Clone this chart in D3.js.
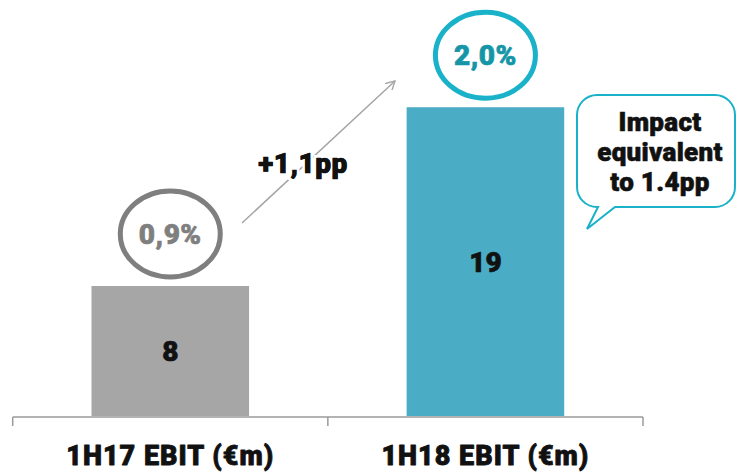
<!DOCTYPE html>
<html>
<head>
<meta charset="utf-8">
<script src="https://cdn.jsdelivr.net/npm/d3@7/dist/d3.min.js"></script>
<style>
  html, body { margin: 0; padding: 0; background: #fff; }
  svg { display: block; }
  text { font-family: Roboto, "Open Sans", sans-serif; font-weight: 900; }
</style>
</head>
<body>
<svg id="chart" width="737" height="473"></svg>
<script>
// EBIT by half-year (EUR millions) and the EBIT margin shown above each bar
const categories = ["1H17 EBIT (€m)", "1H18 EBIT (€m)"];
const ebitValues = [8, 19];
const marginLabels = ["0,9%", "2,0%"];
const changeLabel = "+1,1pp";
const calloutLines = ["Impact", "equivalent", "to 1.4pp"];

const barColors = ["#a6a6a6", "#4bacc6"];
const ringColors = ["#7f7f7f", "#19b2c9"];
const ringTextColors = ["#7f7f7f", "#1596a8"];

const svg = d3.select("#chart");

const x = d3.scaleBand().domain(categories).range([12.7, 643]).paddingInner(0).paddingOuter(0);
const y = d3.scaleLinear().domain([0, 25.6]).range([416, 0]);

const barW = x.bandwidth() * 0.5;
const cx = d => x(d) + x.bandwidth() / 2;

// heavy text helper: fill plus a thin same-colour outline
function heavy(sel, color, w = 0.7) {
  return sel.attr("fill", color).attr("stroke", color).attr("stroke-width", w)
    .attr("stroke-linejoin", "round");
}

// bars
svg.selectAll("rect.bar")
  .data(categories)
  .join("rect")
  .attr("class", "bar")
  .attr("x", d => cx(d) - barW / 2)
  .attr("y", (d, i) => y(ebitValues[i]))
  .attr("width", barW)
  .attr("height", (d, i) => y(0) - y(ebitValues[i]))
  .attr("fill", (d, i) => barColors[i]);

// value labels inside bars
heavy(svg.selectAll("text.val")
  .data(categories)
  .join("text")
  .attr("class", "val")
  .attr("x", cx)
  .attr("y", (d, i) => (y(0) + y(ebitValues[i])) / 2 + 10)
  .attr("text-anchor", "middle")
  .attr("font-size", 28)
  .text((d, i) => ebitValues[i]), "#111");

// category axis: baseline with ticks at band edges
const axisY = 417;
const edges = [x.range()[0], ...categories.map(d => x(d) + x.bandwidth())];
svg.append("line")
  .attr("x1", edges[0]).attr("x2", edges[edges.length - 1])
  .attr("y1", axisY).attr("y2", axisY)
  .attr("stroke", "#9a9a9a").attr("stroke-width", 1.5);
svg.selectAll("line.tick")
  .data(edges)
  .join("line")
  .attr("class", "tick")
  .attr("x1", d => d).attr("x2", d => d)
  .attr("y1", axisY).attr("y2", axisY + 9)
  .attr("stroke", "#9a9a9a").attr("stroke-width", 1.5);

heavy(svg.selectAll("text.cat")
  .data(categories)
  .join("text")
  .attr("class", "cat")
  .attr("x", cx)
  .attr("y", 465)
  .attr("text-anchor", "middle")
  .attr("font-size", 27)
  .attr("letter-spacing", 1)
  .text(d => d), "#111", 0.8);

// margin rings above each bar
const ring = svg.selectAll("g.ring")
  .data(categories)
  .join("g")
  .attr("class", "ring")
  .attr("transform", (d, i) => `translate(${cx(d)},${y(ebitValues[i]) - 52})`);
ring.append("ellipse")
  .attr("rx", 50).attr("ry", 43)
  .attr("fill", "none")
  .attr("stroke", (d, i) => ringColors[i])
  .attr("stroke-width", 5);
ring.append("text")
  .attr("text-anchor", "middle")
  .attr("y", 10)
  .attr("font-size", 28)
  .attr("letter-spacing", 0.5)
  .attr("fill", (d, i) => ringTextColors[i])
  .attr("stroke", (d, i) => ringTextColors[i])
  .attr("stroke-width", 0.7)
  .text((d, i) => marginLabels[i]);

// growth arrow between the rings
svg.append("defs").append("marker")
  .attr("id", "head")
  .attr("viewBox", "0 0 10 10")
  .attr("refX", 9).attr("refY", 5)
  .attr("markerWidth", 10).attr("markerHeight", 10)
  .attr("markerUnits", "userSpaceOnUse")
  .attr("orient", "auto")
  .append("path")
  .attr("d", "M0,0 L9,5 L0,10")
  .attr("fill", "none")
  .attr("stroke", "#a6a6a6")
  .attr("stroke-width", 1.4);
svg.append("line")
  .attr("x1", 242).attr("y1", 223)
  .attr("x2", 395).attr("y2", 81)
  .attr("stroke", "#a6a6a6").attr("stroke-width", 1.5)
  .attr("marker-end", "url(#head)");
svg.append("text")
  .attr("x", 303).attr("y", 173)
  .attr("text-anchor", "middle")
  .attr("font-size", 28)
  .attr("letter-spacing", 0.5)
  .attr("fill", "#111")
  .attr("stroke", "#fff").attr("stroke-width", 6)
  .attr("paint-order", "stroke")
  .text(changeLabel);
heavy(svg.append("text")
  .attr("x", 303).attr("y", 173)
  .attr("text-anchor", "middle")
  .attr("font-size", 28)
  .attr("letter-spacing", 0.5)
  .text(changeLabel), "#111");

// speech-bubble callout
const bx = 577, by = 95, bw = 158, bh = 112, r = 20;
const bubble = d3.path();
bubble.moveTo(bx + r, by);
bubble.lineTo(bx + bw - r, by);
bubble.arcTo(bx + bw, by, bx + bw, by + r, r);
bubble.lineTo(bx + bw, by + bh - r);
bubble.arcTo(bx + bw, by + bh, bx + bw - r, by + bh, r);
bubble.lineTo(615, by + bh);
bubble.lineTo(587, 229);
bubble.lineTo(598, by + bh);
bubble.lineTo(bx + r, by + bh);
bubble.arcTo(bx, by + bh, bx, by + bh - r, r);
bubble.lineTo(bx, by + r);
bubble.arcTo(bx, by, bx + r, by, r);
bubble.closePath();
svg.append("path")
  .attr("d", bubble.toString())
  .attr("fill", "#fff")
  .attr("stroke", "#19b2c9")
  .attr("stroke-width", 2);
heavy(svg.selectAll("text.callout")
  .data(calloutLines)
  .join("text")
  .attr("class", "callout")
  .attr("x", 660)
  .attr("y", (d, i) => 131 + i * 30)
  .attr("text-anchor", "middle")
  .attr("font-size", 26)
  .attr("letter-spacing", 0.3)
  .text(d => d), "#111", 0.6);
</script>
</body>
</html>
